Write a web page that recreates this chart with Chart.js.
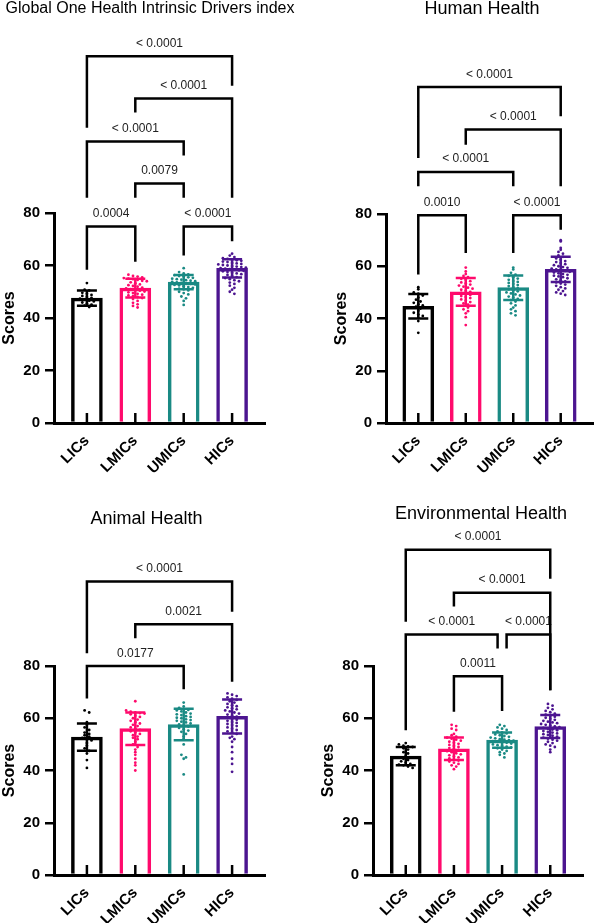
<!DOCTYPE html>
<html><head><meta charset="utf-8">
<script src="https://cdn.jsdelivr.net/npm/chart.js@4.4.0/dist/chart.umd.min.js"></script>
<style>
html,body{margin:0;padding:0;background:#fff;}
body{width:597px;height:923px;position:relative;overflow:hidden;}
canvas{position:absolute;}
</style></head><body>
<canvas id="c1"></canvas><canvas id="c2"></canvas><canvas id="c3"></canvas><canvas id="c4"></canvas>
<script>
// ---------- data ----------
const CATEGORIES = ['LICs', 'LMICs', 'UMICs', 'HICs'];
const COLORS = ['#000000', '#ff0a6c', '#1a8a84', '#4c1590'];
const Y_TICKS = [0, 20, 40, 60, 80];
const Y_LABEL = 'Scores';

// Global One Health Intrinsic Drivers index
const GLOBAL_MEANS = [47.6, 51.4, 53.7, 58.9];
const GLOBAL_SD = [2.9, 3.6, 2.7, 3.5];
const GLOBAL_LICS = [53.3, 50.8, 50.5, 49.6, 49.2, 48.8, 48.4, 48.0, 47.7, 47.4, 47.0, 46.6, 46.3, 45.9, 45.5, 45.1, 44.7, 44.2];
const GLOBAL_LMICS = [56.5, 56.0, 55.8, 55.5, 55.2, 55.0, 54.8, 54.5, 54.2, 54.0, 53.6, 53.2, 52.8, 52.5, 52.2, 51.9, 51.6, 51.3, 51.0, 50.7, 50.4, 50.1, 49.8, 49.5, 49.2, 48.9, 48.6, 48.3, 48.0, 47.6, 47.2, 46.5, 45.8, 45.2, 44.6, 44.0];
const GLOBAL_UMICS = [59.0, 57.5, 57.0, 56.6, 56.3, 56.0, 55.8, 55.5, 55.3, 55.0, 54.8, 54.6, 54.4, 54.2, 54.0, 53.8, 53.6, 53.4, 53.2, 53.0, 52.8, 52.6, 52.4, 52.1, 51.8, 51.5, 51.2, 50.9, 50.5, 50.0, 49.5, 49.0, 48.2, 47.5, 46.5, 45.0];
const GLOBAL_HICS = [64.5, 63.8, 63.2, 62.8, 62.5, 62.2, 62.0, 61.8, 61.5, 61.3, 61.0, 60.8, 60.6, 60.4, 60.2, 60.0, 59.8, 59.6, 59.4, 59.2, 59.0, 58.8, 58.6, 58.4, 58.2, 58.0, 57.8, 57.5, 57.2, 57.0, 56.7, 56.4, 56.0, 55.6, 55.2, 54.8, 54.4, 54.0, 53.5, 53.0, 52.3, 51.5, 50.8, 50.0, 49.2];
// [from, to, bracket height, left leg end, right leg end, label]
const GLOBAL_BRACKETS = [
  [0, 1, 74.9, 58.4, 61.4, '0.0004'],
  [2, 3, 74.9, 63.8, 69.2, '< 0.0001'],
  [1, 2, 91.2, 85.8, 85.8, '0.0079'],
  [0, 2, 107.2, 85.8, 101.9, '< 0.0001'],
  [1, 3, 123.6, 118.3, 85.8, '< 0.0001'],
  [0, 3, 139.7, 112.5, 128.5, '< 0.0001']
];

// Human Health
const HUMAN_MEANS = [44.7, 50.2, 51.8, 58.8];
const HUMAN_SD = [4.7, 5.3, 4.7, 4.8];
const HUMAN_LICS = [52.0, 51.2, 50.0, 49.5, 48.8, 48.0, 47.2, 46.5, 46.0, 45.5, 45.0, 44.5, 43.8, 43.0, 42.2, 41.5, 41.0, 40.2, 39.0, 34.5];
const HUMAN_LMICS = [59.5, 58.0, 57.0, 56.3, 55.8, 55.2, 54.8, 54.3, 53.8, 53.4, 53.0, 52.6, 52.2, 51.8, 51.4, 51.0, 50.6, 50.2, 49.8, 49.4, 49.0, 48.6, 48.2, 47.8, 47.3, 46.8, 46.3, 45.8, 45.3, 44.8, 44.2, 43.5, 42.8, 42.0, 40.5, 37.5];
const HUMAN_UMICS = [59.5, 58.8, 57.5, 56.8, 56.3, 55.8, 55.3, 54.8, 54.4, 54.0, 53.6, 53.2, 52.8, 52.4, 52.0, 51.6, 51.2, 50.8, 50.4, 50.0, 49.6, 49.2, 48.8, 48.4, 48.0, 47.5, 47.0, 46.5, 45.8, 45.0, 44.2, 43.5, 42.8, 42.0, 41.2];
const HUMAN_HICS = [70.0, 69.5, 67.0, 66.3, 65.5, 64.8, 64.2, 63.6, 63.0, 62.5, 62.0, 61.6, 61.2, 60.8, 60.4, 60.0, 59.7, 59.4, 59.1, 58.8, 58.5, 58.2, 57.9, 57.6, 57.3, 57.0, 56.7, 56.4, 56.1, 55.8, 55.4, 55.0, 54.6, 54.2, 53.8, 53.4, 53.0, 52.5, 52.0, 51.5, 51.0, 50.5, 50.0, 49.5, 49.0];
const HUMAN_BRACKETS = [
  [0, 1, 79.5, 56.8, 65.1, '0.0010'],
  [2, 3, 79.5, 65.1, 74.0, '< 0.0001'],
  [0, 2, 96.1, 90.6, 90.6, '< 0.0001'],
  [1, 3, 112.3, 106.5, 90.6, '< 0.0001'],
  [0, 3, 128.6, 101.4, 117.4, '< 0.0001']
];

// Animal Health
const ANIMAL_MEANS = [52.8, 56.0, 57.6, 60.7];
const ANIMAL_SD = [5.2, 6.2, 6.0, 6.5];
const ANIMAL_LICS = [63.0, 62.2, 58.5, 57.5, 56.5, 55.5, 54.5, 54.0, 53.5, 53.0, 52.5, 52.0, 51.5, 50.5, 49.5, 48.5, 47.5, 46.5, 44.0, 41.0];
const ANIMAL_LMICS = [66.5, 63.0, 62.5, 62.2, 62.0, 61.8, 61.5, 61.0, 60.5, 60.0, 59.5, 59.0, 58.5, 58.0, 57.5, 57.0, 56.5, 56.0, 55.5, 55.0, 54.5, 54.0, 53.5, 53.0, 52.5, 52.0, 51.0, 50.0, 49.0, 48.0, 47.0, 46.0, 44.5, 43.0, 42.0, 40.0];
const ANIMAL_UMICS = [66.0, 64.5, 64.0, 63.5, 63.2, 63.0, 62.6, 62.2, 61.8, 61.5, 61.2, 60.8, 60.5, 60.2, 60.0, 59.6, 59.3, 59.0, 58.7, 58.4, 58.0, 57.6, 57.2, 56.8, 56.3, 55.8, 55.3, 54.8, 54.0, 53.0, 52.0, 50.0, 46.0, 45.0, 44.5, 38.5];
const ANIMAL_HICS = [69.5, 69.0, 68.5, 68.0, 67.5, 67.0, 66.5, 66.0, 65.5, 65.0, 64.6, 64.2, 63.8, 63.4, 63.0, 62.6, 62.2, 61.8, 61.4, 61.0, 60.6, 60.2, 59.8, 59.4, 59.0, 58.6, 58.2, 57.8, 57.4, 57.0, 56.5, 56.0, 55.5, 55.0, 54.5, 54.0, 53.0, 52.5, 52.0, 51.0, 49.0, 47.0, 44.5, 42.5, 39.5];
const ANIMAL_BRACKETS = [
  [0, 2, 80.0, 67.6, 71.1, '0.0177'],
  [1, 3, 96.0, 90.6, 74.0, '0.0021'],
  [0, 3, 112.3, 84.9, 100.8, '< 0.0001']
];

// Environmental Health
const ENV_MEANS = [45.5, 48.3, 51.6, 56.8];
const ENV_SD = [3.5, 4.3, 2.9, 4.4];
const ENV_LICS = [50.5, 50.0, 49.5, 49.2, 49.0, 48.5, 48.0, 47.0, 46.5, 45.5, 44.5, 44.0, 43.5, 43.0, 42.5, 42.2, 42.0, 41.5, 41.0];
const ENV_LMICS = [57.5, 57.0, 56.0, 55.5, 54.0, 53.5, 53.0, 52.6, 52.2, 51.8, 51.4, 51.0, 50.6, 50.2, 49.8, 49.4, 49.0, 48.6, 48.2, 47.8, 47.4, 47.0, 46.6, 46.2, 45.8, 45.4, 45.0, 44.6, 44.2, 43.8, 43.4, 43.0, 42.5, 42.0, 41.5, 40.5];
const ENV_UMICS = [57.5, 57.0, 56.5, 56.0, 55.5, 55.0, 54.6, 54.2, 53.8, 53.5, 53.2, 52.9, 52.6, 52.3, 52.0, 51.8, 51.6, 51.4, 51.2, 51.0, 50.8, 50.6, 50.3, 50.0, 49.7, 49.4, 49.1, 48.8, 48.5, 48.0, 47.5, 47.0, 46.5, 46.0, 45.0];
const ENV_HICS = [65.5, 64.8, 64.0, 63.4, 62.8, 62.3, 61.8, 61.4, 61.0, 60.6, 60.2, 59.8, 59.4, 59.0, 58.7, 58.4, 58.1, 57.8, 57.5, 57.2, 56.9, 56.6, 56.3, 56.0, 55.7, 55.4, 55.1, 54.8, 54.5, 54.2, 53.9, 53.6, 53.3, 53.0, 52.6, 52.2, 51.8, 51.4, 51.0, 50.5, 50.0, 49.5, 49.0, 48.0, 47.0];
const ENV_BRACKETS = [
  [1, 2, 76.1, 62.5, 62.8, '0.0011'],
  [0, 2, 92.1, 55.4, 86.7, '< 0.0001'],
  [2, 3, 92.1, 86.7, 70.7, '< 0.0001'],
  [1, 3, 108.0, 102.8, 70.7, '< 0.0001'],
  [0, 3, 124.5, 96.9, 113.4, '< 0.0001']
];

// ---------- layout (page geometry only) ----------
const PANELS = [
  { id: 'c1', title: 'Global One Health Intrinsic Drivers index', titleSize: 16, titleX: 150, titleY: 9,
    left: 0, top: 0, w: 298, h: 482, padTop: 213, padRight: 33, xAxisH: 59,
    means: GLOBAL_MEANS, sds: GLOBAL_SD, points: [GLOBAL_LICS, GLOBAL_LMICS, GLOBAL_UMICS, GLOBAL_HICS], brackets: GLOBAL_BRACKETS },
  { id: 'c2', title: 'Human Health', titleSize: 18, titleX: 150, titleY: 9,
    left: 332, top: 0, w: 265, h: 482, padTop: 214, padRight: 2, xAxisH: 59,
    means: HUMAN_MEANS, sds: HUMAN_SD, points: [HUMAN_LICS, HUMAN_LMICS, HUMAN_UMICS, HUMAN_HICS], brackets: HUMAN_BRACKETS },
  { id: 'c3', title: 'Animal Health', titleSize: 18, titleX: 146.5, titleY: 59,
    left: 0, top: 460, w: 298, h: 463, padTop: 206, padRight: 33, xAxisH: 48,
    means: ANIMAL_MEANS, sds: ANIMAL_SD, points: [ANIMAL_LICS, ANIMAL_LMICS, ANIMAL_UMICS, ANIMAL_HICS], brackets: ANIMAL_BRACKETS },
  { id: 'c4', title: 'Environmental Health', titleSize: 18, titleX: 162, titleY: 54,
    left: 319, top: 460, w: 278, h: 463, padTop: 206, padRight: 14, xAxisH: 48,
    means: ENV_MEANS, sds: ENV_SD, points: [ENV_LICS, ENV_LMICS, ENV_UMICS, ENV_HICS], brackets: ENV_BRACKETS }
];

const FONT = "'Liberation Sans', Arial, Helvetica, sans-serif";
Chart.defaults.font.family = FONT;
Chart.defaults.color = '#000';

// deterministic Prism-like scatter arrangement: points of similar value share a row
function arrange(values, center) {
  const BIN = 1.3, STEP = 0.095;
  const rows = new Map();
  values.forEach(v => {
    const k = Math.round(v / BIN);
    if (!rows.has(k)) rows.set(k, []);
    rows.get(k).push(v);
  });
  const pts = [];
  rows.forEach(arr => {
    const n = arr.length;
    arr.forEach((v, idx) => pts.push({ x: center + (idx - (n - 1) / 2) * STEP, y: v }));
  });
  return pts;
}

const PANEL_BY_ID = {};
PANELS.forEach(p => PANEL_BY_ID[p.id] = p);

const annotPlugin = {
  id: 'annot',
  afterDatasetsDraw(chart) {
    const p = PANEL_BY_ID[chart.canvas.id];
    const ctx = chart.ctx, xs = chart.scales.x, ys = chart.scales.y;
    ctx.save();
    ctx.lineWidth = 2.5;
    ctx.lineCap = 'butt';
    p.means.forEach((m, i) => {
      const cx = xs.getPixelForValue(i);
      const yt = ys.getPixelForValue(m + p.sds[i]);
      const yb = ys.getPixelForValue(m - p.sds[i]);
      ctx.strokeStyle = COLORS[i];
      ctx.beginPath();
      ctx.moveTo(cx, yt); ctx.lineTo(cx, yb);
      ctx.moveTo(cx - 10, yt); ctx.lineTo(cx + 10, yt);
      ctx.moveTo(cx - 10, yb); ctx.lineTo(cx + 10, yb);
      ctx.stroke();
    });
    ctx.restore();
  },
  afterDraw(chart) {
    const p = PANEL_BY_ID[chart.canvas.id];
    const ctx = chart.ctx, xs = chart.scales.x, ys = chart.scales.y;
    const y0 = ys.getPixelForValue(0);
    ctx.save();
    // x-axis ticks (pointing up, Prism style)
    ctx.strokeStyle = '#000';
    ctx.lineWidth = 2.5;
    CATEGORIES.forEach((c, i) => {
      const cx = xs.getPixelForValue(i);
      ctx.beginPath(); ctx.moveTo(cx, y0); ctx.lineTo(cx, y0 - 10); ctx.stroke();
    });
    // significance brackets
    const INSET = 4.5;
    ctx.lineJoin = 'miter';
    ctx.font = '12px ' + FONT;
    ctx.fillStyle = '#222';
    ctx.textAlign = 'center';
    ctx.textBaseline = 'alphabetic';
    p.brackets.forEach(b => {
      const [i, j, h, le, re, label] = b;
      let x1 = xs.getPixelForValue(i), x2 = xs.getPixelForValue(j);
      p.brackets.forEach(o => {
        if (o !== b && o[2] === h) {
          if (o[1] === i) x1 += INSET;
          if (o[0] === j) x2 -= INSET;
        }
      });
      const yh = ys.getPixelForValue(h);
      ctx.beginPath();
      ctx.moveTo(x1, ys.getPixelForValue(le));
      ctx.lineTo(x1, yh);
      ctx.lineTo(x2, yh);
      ctx.lineTo(x2, ys.getPixelForValue(re));
      ctx.stroke();
      ctx.fillText(label, (x1 + x2) / 2, yh - 9.5);
    });
    // panel title
    ctx.font = p.titleSize + 'px ' + FONT;
    ctx.fillStyle = '#000';
    ctx.textBaseline = 'middle';
    ctx.fillText(p.title, p.titleX, p.titleY);
    ctx.restore();
  }
};

PANELS.forEach(p => {
  const cv = document.getElementById(p.id);
  cv.width = p.w; cv.height = p.h;
  cv.style.left = p.left + 'px'; cv.style.top = p.top + 'px';
  cv.style.width = p.w + 'px'; cv.style.height = p.h + 'px';

  const datasets = [{
    type: 'bar',
    data: p.means.map((m, i) => ({ x: i, y: m })),
    backgroundColor: '#ffffff',
    borderColor: COLORS,
    borderWidth: 3.5,
    borderSkipped: 'bottom',
    barThickness: 31,
    order: 2
  }];
  p.points.forEach((vals, i) => {
    datasets.push({
      type: 'scatter',
      data: arrange(vals, i),
      pointRadius: 1.4,
      pointBorderWidth: 0,
      pointBackgroundColor: COLORS[i],
      pointBorderColor: COLORS[i],
      order: 1
    });
  });

  new Chart(cv, {
    type: 'bar',
    data: { datasets },
    options: {
      responsive: false,
      animation: false,
      devicePixelRatio: 1,
      layout: { padding: { top: p.padTop, right: p.padRight, bottom: 0, left: 0 } },
      plugins: { legend: { display: false }, tooltip: { enabled: false }, title: { display: false } },
      scales: {
        x: {
          type: 'linear', min: -0.68, max: 3.68, offset: false,
          afterBuildTicks: s => { s.ticks = CATEGORIES.map((c, i) => ({ value: i })); },
          afterFit: s => { s.height = p.xAxisH; },
          grid: { display: false, drawTicks: false },
          border: { display: true, width: 3, color: '#000' },
          ticks: {
            autoSkip: false, minRotation: 45, maxRotation: 45, padding: 9,
            font: { size: 15, weight: 'bold' }, color: '#000',
            callback: v => CATEGORIES[v]
          }
        },
        y: {
          min: 0, max: 80,
          afterBuildTicks: s => { s.ticks = Y_TICKS.map(v => ({ value: v })); },
          afterFit: s => { s.width = 54; },
          grid: { drawOnChartArea: false, drawTicks: true, tickLength: 9, lineWidth: 2.5, color: '#000' },
          border: { display: true, width: 3, color: '#000' },
          ticks: { padding: 5, font: { size: 15, weight: 'bold' }, color: '#000' },
          title: { display: true, text: Y_LABEL, font: { size: 16, weight: 'bold' }, color: '#000', padding: 0 }
        }
      }
    },
    plugins: [annotPlugin]
  });
});
</script>
</body></html>
